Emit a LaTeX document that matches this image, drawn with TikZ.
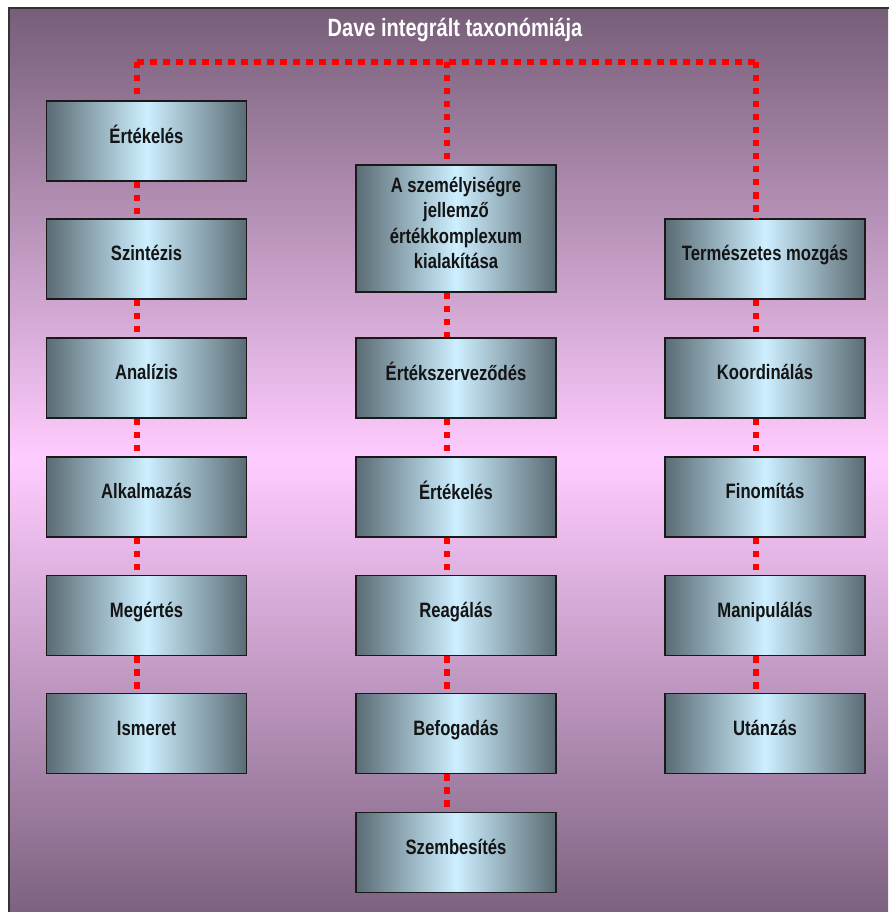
\documentclass[tikz,border=0pt]{standalone}
\usepackage{fontspec}
\newfontfamily\narrowfont[FakeStretch=0.8]{Liberation Sans}
\definecolor{bgtop}{HTML}{765E78}
\definecolor{bgmid}{HTML}{FFCCFF}
\definecolor{bgbot}{HTML}{7D6281}
\definecolor{boxdark}{HTML}{5A6B74}
\definecolor{boxlight}{HTML}{CDEFFF}
\definecolor{dotred}{HTML}{FF0000}
\newcommand{\bxt}[1]{\raisebox{-2pt}[0pt][0pt]{\begin{tabular}{@{}c@{}}#1\end{tabular}}}
\begin{document}
\begin{tikzpicture}[x=1pt,y=-1pt,
  box/.style={draw=black!90, line width=1.6pt, minimum width=200pt, minimum height=80pt,
    inner sep=0pt, left color=boxdark, right color=boxdark, middle color=boxlight,
    font=\narrowfont\bfseries\fontsize{20.8}{25.5}\selectfont, text=black!92},
  dots/.style={draw=dotred, line width=6pt, dash pattern=on 6.5pt off 6.5pt},
  ttl/.style={font=\narrowfont\bfseries\fontsize{25}{30}\selectfont, text=white}]
\useasboundingbox (0,0) rectangle (888,912);
\fill[white] (0,0) rectangle (888,912);
\shade[top color=bgtop, bottom color=bgbot, middle color=bgmid] (9,8) rectangle (888,912);
\draw[black!80, line width=2pt] (9,930) -- (9,8) -- (900,8);
\node[ttl] (title) at (455,30) {Dave integrált taxonómiája};
% left column
\node[box] (L1) at (146.5,141) {\bxt{Értékelés}};
\node[box] (L2) at (146.5,259) {\bxt{Szintézis}};
\node[box] (L3) at (146.5,378) {\bxt{Analízis}};
\node[box] (L4) at (146.5,497) {\bxt{Alkalmazás}};
\node[box] (L5) at (146.5,615.5) {\bxt{Megértés}};
\node[box] (L6) at (146.5,733.5) {\bxt{Ismeret}};
% middle column
\node[box, minimum height=127pt] (M1) at (456,228.5) {\bxt{A személyiségre\\jellemző\\értékkomplexum\\kialakítása}};
\node[box] (M2) at (456,378) {\bxt{Értékszerveződés}};
\node[box] (M3) at (456,497) {\bxt{Értékelés}};
\node[box] (M4) at (456,615.5) {\bxt{Reagálás}};
\node[box] (M5) at (456,733.5) {\bxt{Befogadás}};
\node[box] (M6) at (456,852.5) {\bxt{Szembesítés}};
% right column
\node[box] (R1) at (765,259) {\bxt{Természetes mozgás}};
\node[box] (R2) at (765,378) {\bxt{Koordinálás}};
\node[box] (R3) at (765,497) {\bxt{Finomítás}};
\node[box] (R4) at (765,615.5) {\bxt{Manipulálás}};
\node[box] (R5) at (765,733.5) {\bxt{Utánzás}};
% connectors
\coordinate (tl) at (137,62);
\coordinate (tm) at (447,62);
\coordinate (tr) at (756,62);
\draw[dots] (tl) -- (tr);
\draw[dots] (tl) -- ([xshift=-9.5pt]L1.north);
\draw[dots] (tm) -- ([xshift=-9pt]M1.north);
\draw[dots] (tr) -- ([xshift=-9pt]R1.north);
\foreach \a/\b in {L1/L2,L2/L3,L3/L4,L4/L5,L5/L6}
  \draw[dots] ([xshift=-9.5pt]\a.south) -- ([xshift=-9.5pt]\b.north);
\foreach \a/\b in {M1/M2,M2/M3,M3/M4,M4/M5,M5/M6,R1/R2,R2/R3,R3/R4,R4/R5}
  \draw[dots] ([xshift=-9pt]\a.south) -- ([xshift=-9pt]\b.north);
\end{tikzpicture}
\end{document}
